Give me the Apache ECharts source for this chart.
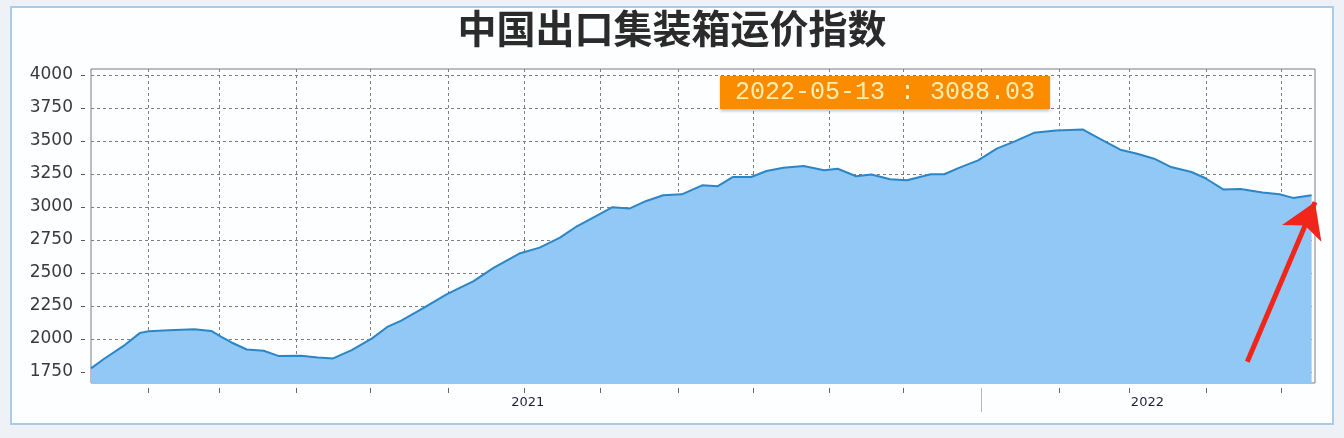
<!DOCTYPE html>
<html>

<head>
    <meta charset="utf-8">
    <title>中国出口集装箱运价指数</title>
    <script src="https://cdn.jsdelivr.net/npm/echarts@6/dist/echarts.min.js"></script>
    <style>
        html, body { margin: 0; padding: 0; background: #eef1f5; }
    </style>
</head>

<body>
    <div id="main" style="width: 1344px;height:438px;"></div>
    <script type="text/javascript">
        // weekly CCFI readings
        var dates = ['2020-05-22', '2020-05-30', '2020-06-10', '2020-06-20', '2020-06-25', '2020-07-07', '2020-07-22',
            '2020-08-01', '2020-08-07', '2020-08-13', '2020-08-22', '2020-09-01', '2020-09-10', '2020-09-23',
            '2020-10-03', '2020-10-12', '2020-10-23', '2020-11-04', '2020-11-13', '2020-11-21', '2020-12-04',
            '2020-12-18', '2021-01-03', '2021-01-15', '2021-01-30', '2021-02-11', '2021-02-23', '2021-03-05',
            '2021-03-19', '2021-03-26', '2021-04-05', '2021-04-15', '2021-04-25', '2021-05-06', '2021-05-18',
            '2021-05-27', '2021-06-05', '2021-06-16', '2021-06-25', '2021-07-05', '2021-07-17', '2021-07-29',
            '2021-08-06', '2021-08-17', '2021-08-26', '2021-09-06', '2021-09-16', '2021-09-30', '2021-10-08',
            '2021-10-17', '2021-10-28', '2021-11-08', '2021-11-19', '2021-11-30', '2021-12-13', '2021-12-29',
            '2022-01-08', '2022-01-20', '2022-01-30', '2022-02-09', '2022-02-19', '2022-03-03', '2022-03-11',
            '2022-03-22', '2022-04-01', '2022-04-14', '2022-04-24', '2022-05-02', '2022-05-13'];
        var values = [1776, 1851, 1944, 2045, 2058, 2065, 2073, 2060, 2015, 1972, 1919, 1909, 1869, 1871, 1859,
            1851, 1914, 2003, 2090, 2136, 2230, 2336, 2437, 2540, 2646, 2691, 2767, 2853, 2949, 2998, 2987, 3045,
            3088, 3095, 3163, 3156, 3226, 3226, 3272, 3297, 3310, 3277, 3289, 3232, 3245, 3210, 3202, 3247, 3247,
            3297, 3352, 3441, 3498, 3561, 3579, 3586, 3516, 3433, 3403, 3365, 3302, 3264, 3219, 3131, 3136, 3109,
            3095, 3068, 3088.03];

        // axis ticks and labels
        var yTicks = [1750, 2000, 2250, 2500, 2750, 3000, 3250, 3500, 3750, 4000];
        var xTickDates = ['2020-06-25', '2020-08-06', '2020-09-20', '2020-11-03', '2020-12-19', '2021-02-02',
            '2021-03-19', '2021-05-04', '2021-06-17', '2021-08-01', '2021-09-14', '2021-10-30', '2021-12-15',
            '2022-01-25', '2022-03-12', '2022-04-25'];
        var yearLabelDates = ['2021-02-04', '2022-02-05'];
        var separatorDate = ['2021-10-30'];
        var xRange = ['2020-05-22', '2022-05-15'];
        var yRange = [1665, 4045];

        // arrow pointing at the latest reading
        var arrowFrom = ['2022-04-05', 1826];
        var arrowTo = ['2022-05-15', 3036];

        function ts(s) {
            return echarts.time.parse(s).getTime();
        }

        var seriesData = dates.map(function (d, i) {
            return [ts(d), values[i]];
        });
        var last = dates.length - 1;
        var tipText = dates[last] + ' : ' + values[last].toFixed(2);

        var myChart = echarts.init(document.getElementById('main'));

        var option = {
            animation: false,
            backgroundColor: '#eef1f5',
            graphic: [{
                type: 'rect',
                z: -10,
                shape: { x: 11, y: 7, width: 1322, height: 417 },
                style: { fill: '#fdfeff', stroke: '#a9cbea', lineWidth: 2 }
            }],
            title: [{
                text: '中国出口集装箱运价指数',
                left: 'center',
                top: 9,
                padding: 0,
                textStyle: {
                    fontFamily: 'Noto Sans CJK SC',
                    fontSize: 39,
                    fontWeight: 'bold',
                    color: '#2b2b2b'
                }
            }, {
                text: tipText,
                left: 720,
                top: 76,
                padding: [4, 15],
                backgroundColor: '#fb8c00',
                shadowBlur: 3,
                shadowOffsetY: 2,
                shadowColor: 'rgba(0,0,0,0.25)',
                textStyle: {
                    fontFamily: 'Liberation Mono',
                    fontSize: 25,
                    fontWeight: 'normal',
                    color: '#fdeeb0'
                }
            }],
            grid: {
                left: 91,
                top: 69,
                width: 1224,
                height: 314,
                containLabel: false,
                outerBoundsMode: 'none',
                show: true,
                backgroundColor: 'transparent',
                borderColor: '#7c7a8c',
                borderWidth: 1
            },
            xAxis: [{
                type: 'value',
                min: ts(xRange[0]),
                max: ts(xRange[1]),
                offset: 5,
                axisLine: { show: false },
                axisTick: {
                    show: true,
                    length: 5,
                    customValues: xTickDates.map(ts),
                    lineStyle: { color: '#666' }
                },
                axisLabel: {
                    show: true,
                    margin: 8,
                    customValues: yearLabelDates.map(ts),
                    formatter: function (v) {
                        return String(new Date(v).getFullYear());
                    },
                    fontFamily: 'DejaVu Sans',
                    fontSize: 13,
                    color: '#1f1f3a'
                },
                splitLine: {
                    show: true,
                    lineStyle: { color: '#7e7e7e', type: [3, 3], width: 1 }
                }
            }, {
                type: 'value',
                position: 'bottom',
                min: ts(xRange[0]),
                max: ts(xRange[1]),
                offset: 5,
                axisLine: { show: false },
                axisLabel: { show: false },
                splitLine: { show: false },
                axisTick: {
                    show: true,
                    length: 24,
                    customValues: separatorDate.map(ts),
                    lineStyle: { color: '#b5b5b5' }
                }
            }],
            yAxis: {
                type: 'value',
                min: yRange[0],
                max: yRange[1],
                offset: 6,
                axisLine: { show: false },
                axisTick: {
                    show: true,
                    length: 4,
                    customValues: yTicks,
                    lineStyle: { color: '#555' }
                },
                axisLabel: {
                    margin: 12,
                    customValues: yTicks,
                    formatter: function (v) {
                        return String(v);
                    },
                    fontFamily: 'DejaVu Sans',
                    fontSize: 17,
                    color: '#3a3a3a'
                },
                splitLine: {
                    show: true,
                    lineStyle: { color: '#7e7e7e', type: [3, 3], width: 1 }
                }
            },
            series: [{
                type: 'line',
                xAxisIndex: 0,
                data: seriesData,
                symbol: 'none',
                clip: false,
                lineStyle: { color: '#2b86c5', width: 2 },
                areaStyle: { color: '#92c8f5', opacity: 1 },
                markLine: {
                    silent: true,
                    symbol: ['none', 'arrow'],
                    symbolSize: [32, 34],
                    label: { show: false },
                    lineStyle: { color: '#f0261a', width: 5, type: 'solid' },
                    emphasis: { disabled: true },
                    data: [[
                        { coord: [ts(arrowFrom[0]), arrowFrom[1]] },
                        { coord: [ts(arrowTo[0]), arrowTo[1]] }
                    ]]
                }
            }]
        };

        myChart.setOption(option);
    </script>
</body>

</html>
